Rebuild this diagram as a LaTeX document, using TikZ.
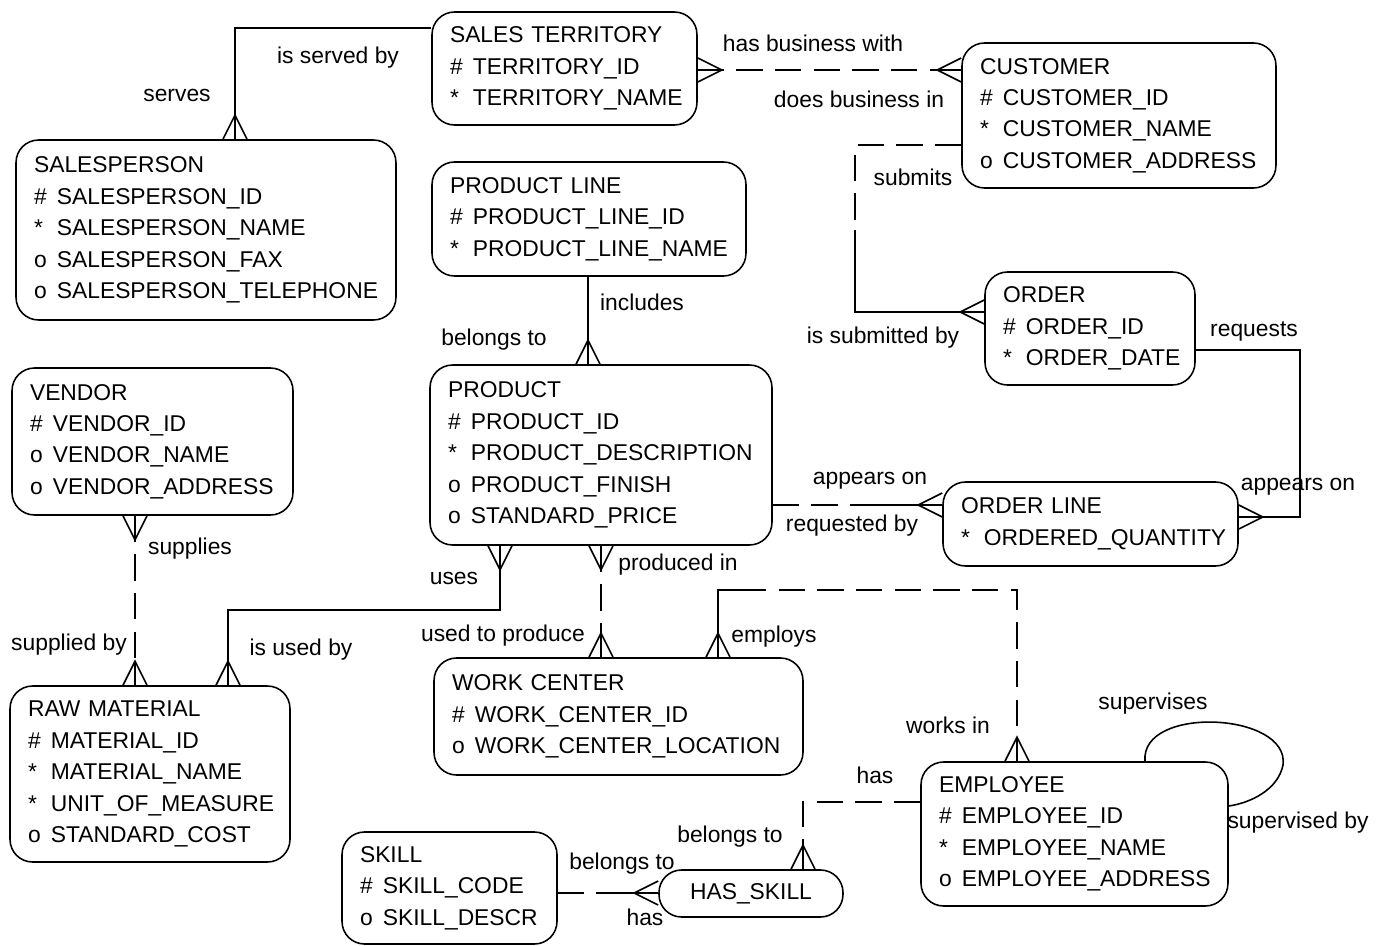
\documentclass[tikz,border=0pt]{standalone}
\usepackage{fontspec}
\setmainfont{Liberation Sans}
\usepackage{tikz}
\newcommand{\attr}[2]{\makebox[1em][l]{#1}#2}

\begin{document}
\begin{tikzpicture}[
        x=0.02cm, y=-0.02cm,
        entity/.style={rectangle, rounded corners=0.45cm, draw, line width=0.9pt, align=left, inner xsep=0.36cm, inner ysep=0pt, text width=#1, font=\fontsize{13}{17.9}\selectfont},
        lbl/.style={inner sep=0pt, font=\fontsize{13}{15}\selectfont},
        rel/.style={line width=0.9pt},
        opt/.style={line width=0.9pt, dash pattern=on 15pt off 7pt},
        crow/.pic={\draw[rel] (0,-12) -- (24,0) -- (0,12) (0,0) -- (24,0);}
    ]
        \useasboundingbox (0,0) rectangle (1387,946);

        \node[entity=4.58cm, minimum height=2.26cm] (terr) at (564.5,68.5) {SALES TERRITORY\\\attr{\#}{TERRITORY\_ID}\\\attr{*}{TERRITORY\_NAME}};
        \node[entity=5.56cm, minimum height=2.9cm] (cust) at (1119,115.5) {CUSTOMER\\\attr{\#}{CUSTOMER\_ID}\\\attr{*}{CUSTOMER\_NAME}\\\attr{o}{CUSTOMER\_ADDRESS}};
        \node[entity=6.88cm, minimum height=3.6cm] (sp) at (206,230) {SALESPERSON\\\attr{\#}{SALESPERSON\_ID}\\\attr{*}{SALESPERSON\_NAME}\\\attr{o}{SALESPERSON\_FAX}\\\attr{o}{SALESPERSON\_TELEPHONE}};
        \node[entity=5.56cm, minimum height=2.28cm] (pl) at (589,219) {PRODUCT LINE\\\attr{\#}{PRODUCT\_LINE\_ID}\\\attr{*}{PRODUCT\_LINE\_NAME}};
        \node[entity=3.48cm, minimum height=2.26cm] (ord) at (1090,328.5) {ORDER\\\attr{\#}{ORDER\_ID}\\\attr{*}{ORDER\_DATE}};
        \node[entity=4.9cm, minimum height=2.94cm] (ven) at (152.5,441.5) {VENDOR\\\attr{\#}{VENDOR\_ID}\\\attr{o}{VENDOR\_NAME}\\\attr{o}{VENDOR\_ADDRESS}};
        \node[entity=6.12cm, minimum height=3.6cm] (prod) at (601,455) {PRODUCT\\\attr{\#}{PRODUCT\_ID}\\\attr{*}{PRODUCT\_DESCRIPTION}\\\attr{o}{PRODUCT\_FINISH}\\\attr{o}{STANDARD\_PRICE}};
        \node[entity=5.18cm, minimum height=1.68cm] (ol) at (1090.5,524) {ORDER LINE\\\attr{*}{ORDERED\_QUANTITY}};
        \node[entity=4.88cm, minimum height=3.52cm] (rm) at (150,774) {RAW MATERIAL\\\attr{\#}{MATERIAL\_ID}\\\attr{*}{MATERIAL\_NAME}\\\attr{*}{UNIT\_OF\_MEASURE}\\\attr{o}{STANDARD\_COST}};
        \node[entity=6.66cm, minimum height=2.34cm] (wc) at (618.5,716.5) {WORK CENTER\\\attr{\#}{WORK\_CENTER\_ID}\\\attr{o}{WORK\_CENTER\_LOCATION}};
        \node[entity=5.42cm, minimum height=2.88cm] (emp) at (1074.5,834) {EMPLOYEE\\\attr{\#}{EMPLOYEE\_ID}\\\attr{*}{EMPLOYEE\_NAME}\\\attr{o}{EMPLOYEE\_ADDRESS}};
        \node[entity=3.58cm, minimum height=2.24cm] (sk) at (449.5,888) {SKILL\\\attr{\#}{SKILL\_CODE}\\\attr{o}{SKILL\_DESCR}};
        \node[entity=2.96cm, align=center, minimum height=0.94cm] (hs) at (751,893.5) {HAS\_SKILL};

        \draw[rel] (sp.north -| 235,0) |- (terr.west |- 0,28);
        \pic[rotate=90] at (sp.north -| 235,0) {crow};

        \draw[opt] (terr.east |- 0,70) -- (cust.west |- 0,70);
        \pic at (terr.east |- 0,70) {crow};
        \pic[rotate=180] at (cust.west |- 0,70) {crow};

        \coordinate (subbend) at (855,230);
        \draw[opt] (cust.west |- 0,145) -| (subbend);
        \draw[rel] (subbend) |- (ord.west |- 0,312);
        \pic[rotate=180] at (ord.west |- 0,312) {crow};

        \draw[rel] (ord.east |- 0,350) -| (1300,517) -- (ol.east |- 0,517);
        \pic at (ol.east |- 0,517) {crow};

        \coordinate (aomid) at (860,505);
        \draw[opt] (prod.east |- 0,505) -- (aomid);
        \draw[rel] (aomid) -- (ol.west |- 0,505);
        \pic[rotate=180] at (ol.west |- 0,505) {crow};

        \draw[rel] (pl.south -| 588,0) -- (prod.north -| 588,0);
        \pic[rotate=90] at (prod.north -| 588,0) {crow};

        \draw[opt] (ven.south -| 135,0) -- (rm.north -| 135,0);
        \pic[rotate=-90] at (ven.south -| 135,0) {crow};
        \pic[rotate=90] at (rm.north -| 135,0) {crow};

        \draw[rel] (prod.south -| 500,0) |- (228,610) -- (rm.north -| 228,0);
        \pic[rotate=-90] at (prod.south -| 500,0) {crow};
        \pic[rotate=90] at (rm.north -| 228,0) {crow};

        \draw[opt] (prod.south -| 601,0) -- (wc.north -| 601,0);
        \pic[rotate=-90] at (prod.south -| 601,0) {crow};
        \pic[rotate=90] at (wc.north -| 601,0) {crow};

        \coordinate (wkbend) at (740,590);
        \draw[rel] (wc.north -| 718,0) |- (wkbend);
        \draw[opt] (wkbend) -| (emp.north -| 1017,0);
        \pic[rotate=90] at (wc.north -| 718,0) {crow};
        \pic[rotate=90] at (emp.north -| 1017,0) {crow};

        \draw[rel] (emp.north -| 1145,0) .. controls (1140,705) and (1290,712) .. (1283,765) .. controls (1278,790) and (1250,803) .. (emp.east |- 0,806);

        \coordinate (hsbend) at (803,845);
        \draw[opt] (emp.west |- 0,802) -| (hsbend);
        \draw[rel] (hsbend) -- (hs.north -| 803,0);
        \pic[rotate=90] at (hs.north -| 803,0) {crow};

        \coordinate (skmid) at (620,893);
        \draw[opt] (sk.east |- 0,893) -- (skmid);
        \draw[rel] (skmid) -- (hs.west |- 0,893);
        \pic[rotate=180] at (hs.west |- 0,893) {crow};

        \node[lbl] (servedby) at (338,58) {is served by};
        \node[lbl] (serves) at (177,95) {serves};
        \node[lbl] (haswith) at (813,43) {has business with};
        \node[lbl] (doesin) at (859,99) {does business in};
        \node[lbl] (submits) at (913,177) {submits};
        \node[lbl] (submittedby) at (883,338) {is submitted by};
        \node[lbl] (requests) at (1254,331) {requests};
        \node[lbl] (appearsr) at (1298,487) {appears on};
        \node[lbl] (appearsl) at (870,481) {appears on};
        \node[lbl] (requestedby) at (852,526) {requested by};
        \node[lbl] (includes) at (642,302) {includes};
        \node[lbl] (belongspl) at (494,340) {belongs to};
        \node[lbl] (supplies) at (190,549) {supplies};
        \node[lbl] (suppliedby) at (69,645) {supplied by};
        \node[lbl] (uses) at (454,578) {uses};
        \node[lbl] (usedby) at (301,650) {is used by};
        \node[lbl] (producedin) at (678,565) {produced in};
        \node[lbl] (usedto) at (503,636) {used to produce};
        \node[lbl] (employs) at (774,637) {employs};
        \node[lbl] (worksin) at (948,725) {works in};
        \node[lbl] (supervises) at (1153,704) {supervises};
        \node[lbl] (supervisedby) at (1298,823) {supervised by};
        \node[lbl] (hasemp) at (875,775) {has};
        \node[lbl] (belongsemp) at (730,837) {belongs to};
        \node[lbl] (belongssk) at (622,864) {belongs to};
        \node[lbl] (hassk) at (645,917) {has};
    \end{tikzpicture}
\end{document}
